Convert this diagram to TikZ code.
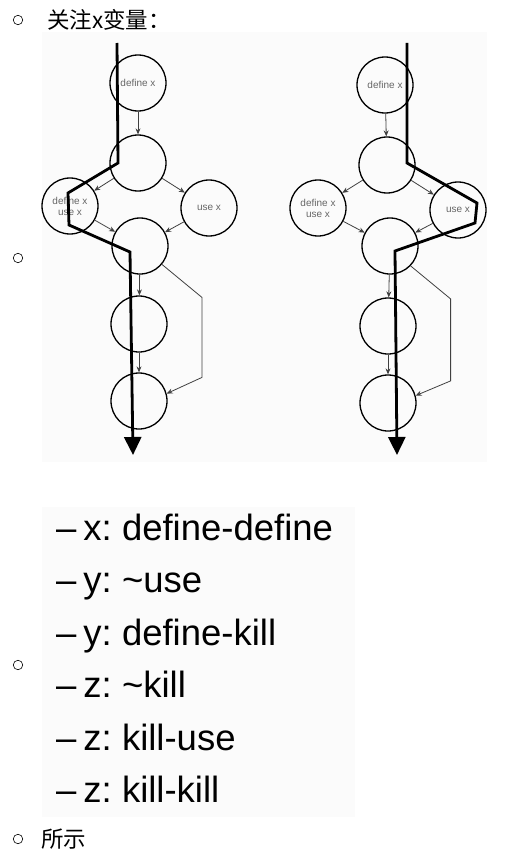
\documentclass[tikz,border=0pt]{standalone}
\usepackage{fontspec}
\setmainfont{Liberation Sans}
\newfontfamily\cjk{Noto Sans CJK SC}
\usetikzlibrary{arrows.meta,positioning}
\frenchspacing

\begin{document}
\begin{tikzpicture}[x=1pt, y=-1pt, >={Stealth[length=6pt,width=5pt]}, blk/.style={circle, draw, line width=1.3pt, minimum size=56pt, inner sep=0pt, align=center, font=\fontsize{10}{11}\selectfont, text=black!60}, flow/.style={->, line width=0.8pt, draw=black!75}, route/.style={line width=2.8pt, -{Triangle[length=18pt,width=17pt]}}, bulletmark/.style={circle, draw, line width=0.6pt, minimum size=9.5pt, inner sep=0pt}, item/.style={anchor=base west, inner sep=0pt, font=\fontsize{36.5}{40}\selectfont}, cjktext/.style={anchor=west, inner sep=0pt, font=\cjk\fontsize{22.5}{25}\selectfont}]
\useasboundingbox (0,0) rectangle (514,864);
\fill[black!1.5] (42,32) rectangle (487,462);
\fill[black!1.5] (42,507) rectangle (355,817);
\node[bulletmark] (b1) at (18,20) {}; \node[cjktext] (head) at (47,20) {关注x变量：};
\node[bulletmark] (b2) at (18,258) {};
\node[bulletmark] (b3) at (18,665) {};
\node[bulletmark] (b4) at (18,839) {}; \node[cjktext] (tail) at (41,839) {所示};
\node[blk] (ldef) at (138,83) {define x};
\node[blk] (lc2) at (138,163) {};
\node[blk] (lboth) at (70,206) {define x\\use x};
\node[blk] (luse) at (209,208) {use x};
\node[blk] (lc4) at (140,246) {};
\node[blk] (lc5) at (139,324) {};
\node[blk] (lc6) at (139,401) {};
\draw[flow] (ldef) -- (lc2); \draw[flow] (lc2) -- (lboth); \draw[flow] (lc2) -- (luse); \draw[flow] (lboth) -- (lc4); \draw[flow] (luse) -- (lc4); \draw[flow] (lc4) -- (lc5); \draw[flow] (lc5) -- (lc6);
\draw[flow] (lc4.-40) -- ++(40,33) -- ++(0,80) -- (lc6.15);
\coordinate (lin) at (117,43); \coordinate (lout) at (133,455);
\draw[route] (lin) -- (118,163) -- (68,193) -- (69,225) -- (130,252) -- (lout);
\node[blk] (rdef) at (385,85) {define x};
\node[blk] (rc2) at (387,165) {};
\node[blk] (rboth) at (318,208) {define x\\use x};
\node[blk] (ruse) at (458,210) {use x};
\node[blk] (rc4) at (390,246) {};
\node[blk] (rc5) at (388,326) {};
\node[blk] (rc6) at (388,403) {};
\draw[flow] (rdef) -- (rc2); \draw[flow] (rc2) -- (rboth); \draw[flow] (rc2) -- (ruse); \draw[flow] (rboth) -- (rc4); \draw[flow] (ruse) -- (rc4); \draw[flow] (rc4) -- (rc5); \draw[flow] (rc5) -- (rc6);
\draw[flow] (rc4.-44) -- ++(40,33) -- ++(0,82) -- (rc6.15);
\coordinate (rin) at (407,43); \coordinate (rout) at (397,455);
\draw[route] (rin) -- (407,163) -- (477,203) -- (475,223) -- (395,251) -- (rout);
\node[item] (i1) at (56,540) {–\hspace{7pt}x: define-define};
\node[item] (i2) at (56,592.5) {–\hspace{7pt}y: \textasciitilde use};
\node[item] (i3) at (56,645) {–\hspace{7pt}y: define-kill};
\node[item] (i4) at (56,697.5) {–\hspace{7pt}z: \textasciitilde kill};
\node[item] (i5) at (56,750) {–\hspace{7pt}z: kill-use};
\node[item] (i6) at (56,802) {–\hspace{7pt}z: kill-kill};
\end{tikzpicture}
\end{document}
